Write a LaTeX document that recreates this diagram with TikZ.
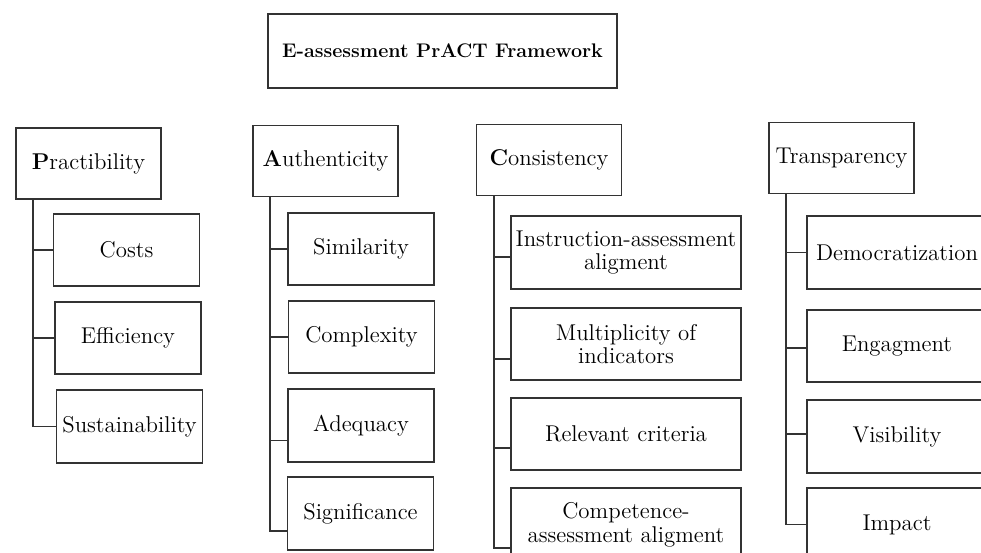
\documentclass[tikz,border=0pt]{standalone}
\usepackage{tikz}
\usetikzlibrary{positioning}
\tikzset{
  framebox/.style={draw=black!80, line width=0.9pt, inner sep=0pt, align=center,
    font=\fontsize{13}{13.5}\selectfont},
  titlebox/.style={framebox, minimum width=6.98cm, minimum height=1.48cm,
    font=\fontsize{11.2}{13}\selectfont\bfseries},
  topicbox/.style={framebox, minimum width=2.9cm, minimum height=1.42cm},
  itembox/.style={framebox, minimum width=2.92cm, minimum height=1.45cm},
  wideitem/.style={framebox, minimum width=4.6cm, minimum height=1.45cm},
  lastitem/.style={framebox, minimum width=3.6cm, minimum height=1.45cm},
  branch/.style={draw=black!80, line width=0.9pt},
}
% #1 box style, #2 parent, #3 name, #4/#5 centre (px), #6 drop of the tie (px), #7 text
\newcommand{\critbox}[7][itembox]{%
  \node[#1] (#3) at (#4,#5) {#7};
  \draw[branch] ([xshift=0.36cm]#2.south west) |- ([yshift={-#6*0.02cm}]#3.west);
}

\begin{document}
\begin{tikzpicture}[x=0.02cm,y=-0.02cm]
  \useasboundingbox (0,0) rectangle (981,553);
  \clip (0,0) rectangle (981,553);

  \node[titlebox] (frame) at (442.5,51) {E-assessment PrACT Framework};

  % the four criteria
  \node[topicbox] (pract) at (88.5,163.5) {\textbf{P}ractibility};
  \node[topicbox] (auth)  at (325.5,161)  {\textbf{A}uthenticity};
  \node[topicbox] (cons)  at (549,160)    {\textbf{C}onsistency};
  \node[topicbox] (trans) at (841.5,158)  {Transparency};

  % Practibility
  \critbox{pract}{costs}{126.5}{250}{0}{Costs}
  \critbox{pract}{effic}{128}{338}{0}{Efficiency}
  \critbox{pract}{sust}{129.5}{426.5}{0}{Sustainability}

  % Authenticity
  \critbox{auth}{simil}{361}{249}{0}{Similarity}
  \critbox{auth}{compl}{361.5}{337}{0}{Complexity}
  \critbox{auth}{adeq}{361}{425.5}{15}{Adequacy}
  \critbox{auth}{signif}{360.5}{513.5}{17.5}{Significance}

  % Consistency
  \critbox[wideitem]{cons}{instr}{626}{252.5}{4.5}{Instruction-assessment\\aligment}
  \critbox[wideitem]{cons}{multi}{626}{344}{15}{Multiplicity of\\indicators}
  \critbox[wideitem]{cons}{relev}{626}{434}{14}{Relevant criteria}
  \critbox[wideitem]{cons}{compet}{626}{524.5}{23.5}{Competence-\\assessment aligment}

  % Transparency
  \critbox[lastitem]{trans}{democ}{897}{252.5}{0}{Democratization}
  \critbox[lastitem]{trans}{engag}{897}{346}{2}{Engagment}
  \critbox[lastitem]{trans}{visib}{897}{436.5}{-2.5}{Visibility}
  \critbox[lastitem]{trans}{impact}{897}{524.5}{0}{Impact}
\end{tikzpicture}
\end{document}
